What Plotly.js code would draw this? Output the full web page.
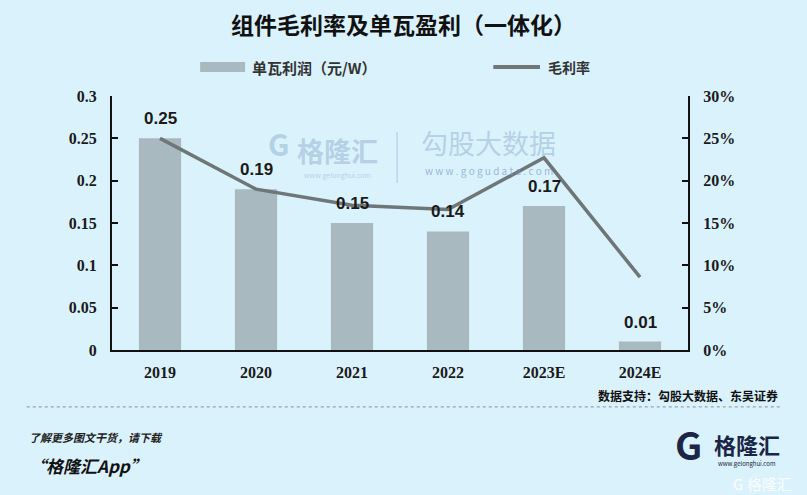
<!DOCTYPE html>
<html>
<head>
<meta charset="utf-8">
<script src="https://cdn.plot.ly/plotly-3.0.1.min.js"></script>
<style>
  html, body { margin: 0; padding: 0; background: #daf2fc; }
  #chart { width: 807px; height: 495px; }
</style>
</head>
<body>
<div id="chart"></div>
<script>
// values
var years = ['2019', '2020', '2021', '2022', '2023E', '2024E'];
var profitPerW = [0.25, 0.19, 0.15, 0.14, 0.17, 0.01];
var grossMargin = [0.25, 0.19, 0.171, 0.166, 0.227, 0.086];

var cjk = '"Noto Sans CJK SC", "Noto Sans", sans-serif';
var serif = '"Liberation Serif", "Times New Roman", serif';
var wm = 'rgba(150,180,210,0.55)';

var bars = {
    x: years,
    y: profitPerW,
    type: 'bar',
    name: '单瓦利润（元/W）',
    width: 0.44,
    marker: { color: '#a9b9c0' },
    hoverinfo: 'skip'
};

var margin = {
    x: years,
    y: grossMargin,
    type: 'scatter',
    mode: 'lines',
    name: '毛利率',
    yaxis: 'y2',
    line: { color: '#6e7677', width: 3.5 },
    hoverinfo: 'skip'
};

// value labels above the bars (x is the category index)
var barLabels = years.map(function (yr, i) {
    return {
        x: i, y: profitPerW[i], xref: 'x', yref: 'y',
        text: profitPerW[i].toFixed(2),
        showarrow: false, xanchor: 'center', yanchor: 'bottom', yshift: 8,
        font: { family: '"Liberation Sans", Arial, sans-serif', size: 17, weight: 'bold', color: '#1a1a1a' }
    };
});

function note(text, x, y, font, extra) {
    var a = { text: text, xref: 'paper', yref: 'paper', x: x, y: y, showarrow: false,
              xanchor: 'center', yanchor: 'middle', font: font };
    for (var k in extra) a[k] = extra[k];
    return a;
}

var layout = {
    width: 807,
    height: 495,
    margin: { l: 112, r: 119, t: 96, b: 145 },
    paper_bgcolor: '#daf2fc',
    plot_bgcolor: 'rgba(0,0,0,0)',
    title: {
        text: '组件毛利率及单瓦盈利（一体化）',
        font: { family: cjk, size: 23, weight: 'bold', color: '#111' },
        x: 0.5, xanchor: 'center', y: 0.948, yanchor: 'middle'
    },
    showlegend: false,
    bargap: 0.5,
    xaxis: {
        type: 'category',
        range: [-0.5, 5.5],
        showline: true,
        linecolor: '#111',
        linewidth: 2,
        ticks: '',
        showgrid: false,
        zeroline: false,
        ticklabelstandoff: 7,
        tickfont: { family: serif, size: 16, weight: 'bold', color: '#1a1a1a' }
    },
    yaxis: {
        range: [0, 0.3],
        dtick: 0.05,
        showline: true,
        linecolor: '#111',
        linewidth: 2,
        ticks: 'inside',
        ticklen: 6,
        tickwidth: 2,
        tickcolor: '#111',
        showgrid: false,
        zeroline: false,
        ticklabelstandoff: 10,
        tickfont: { family: serif, size: 16, weight: 'bold', color: '#1a1a1a' }
    },
    yaxis2: {
        overlaying: 'y',
        side: 'right',
        range: [0, 0.3],
        dtick: 0.05,
        tickformat: '.0%',
        showline: true,
        linecolor: '#111',
        linewidth: 2,
        ticks: 'inside',
        ticklen: 6,
        tickwidth: 2,
        tickcolor: '#111',
        showgrid: false,
        zeroline: false,
        ticklabelstandoff: 10,
        tickfont: { family: serif, size: 16, weight: 'bold', color: '#1a1a1a' }
    },
    shapes: [
        // legend keys
        { type: 'rect', xref: 'paper', yref: 'paper', x0: 0.153, x1: 0.231, y0: 1.094, y1: 1.134,
          fillcolor: '#a9b9c0', line: { width: 0 } },
        { type: 'line', xref: 'paper', yref: 'paper', x0: 0.662, x1: 0.743, y0: 1.114, y1: 1.114,
          line: { color: '#6e7677', width: 4 } },
        // watermark separator
        { type: 'line', xref: 'paper', yref: 'paper', x0: 0.495, x1: 0.495, y0: 0.657, y1: 0.858,
          line: { color: 'rgba(150,180,210,0.45)', width: 1.5 } },
        // footer dotted rule
        { type: 'line', xref: 'paper', yref: 'paper', x0: -0.148, x1: 1.16, y0: -0.224, y1: -0.224,
          line: { color: '#8a8f93', width: 1, dash: 'dot' } }
    ],
    annotations: barLabels.concat([
        // legend text
        note('单瓦利润（元/W）', 0.24, 1.114, { family: cjk, size: 15, weight: 'bold', color: '#333' }, { xanchor: 'left' }),
        note('毛利率', 0.754, 1.114, { family: cjk, size: 14, weight: 'bold', color: '#333' }, { xanchor: 'left' }),
        // watermark
        note('G', 0.29, 0.815, { family: cjk, size: 30, weight: 'bold', color: wm }),
        note('格隆汇', 0.392, 0.785, { family: cjk, size: 27, weight: 'bold', color: wm }),
        note('www.gelonghui.com', 0.392, 0.69, { family: cjk, size: 7, color: wm }),
        note('勾股大数据', 0.654, 0.818, { family: cjk, size: 27, color: wm }),
        note('w w w . g o g u d a t a . c o m', 0.654, 0.707, { family: cjk, size: 10, color: 'rgba(110,150,200,0.65)' }),
        // source
        note('数据支持：勾股大数据、东吴证券', 1.16, -0.181, { family: cjk, size: 12, weight: 'bold', color: '#111' },
             { xanchor: 'right' }),
        // footer
        note('<i>了解更多图文干货，请下载</i>', -0.148, -0.343, { family: cjk, size: 11, weight: 'bold', color: '#222' },
             { xanchor: 'left' }),
        note('<i>“格隆汇App”</i>', -0.148, -0.453, { family: cjk, size: 17, weight: 'bold', color: '#111' },
             { xanchor: 'left' }),
        // logo
        note('G', 1.0, -0.37, { family: cjk, size: 38, weight: 'bold', color: '#1d2545' }),
        note('格隆汇', 1.103, -0.372, { family: cjk, size: 22, weight: 'bold', color: '#1d2545' }),
        note('www.gelonghui.com', 1.103, -0.447, { family: cjk, size: 6, color: '#1d2545' }),
        note('G 格隆汇', 1.13, -0.525, { family: cjk, size: 15, color: 'rgba(255,255,255,0.9)' })
    ])
};

Plotly.newPlot('chart', [bars, margin], layout, { staticPlot: true });
</script>
</body>
</html>
